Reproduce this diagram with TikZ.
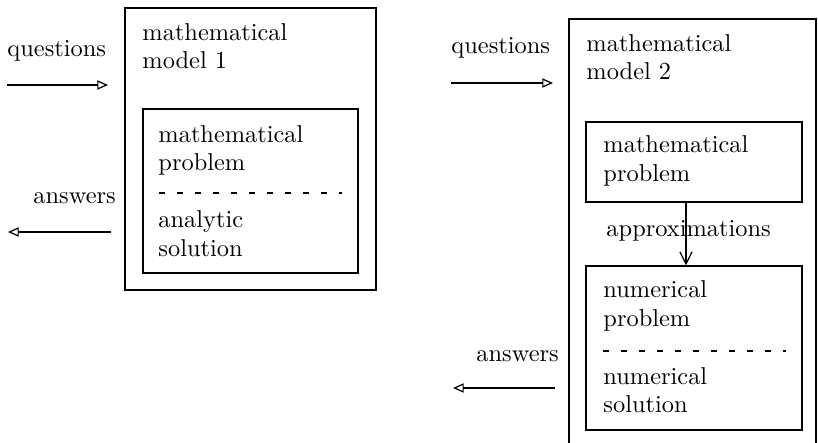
\documentclass[tikz,border=0pt]{standalone}
\usetikzlibrary{arrows.meta,fit}
\begin{document}
\begin{tikzpicture}[x=0.41pt,y=-0.41pt,
  box/.style={draw,line width=0.5pt,inner sep=0pt},
  lbl/.style={anchor=base west,inner sep=0pt,font=\fontsize{10}{12}\selectfont},
  io/.style={-{Triangle[open,length=4.4pt,width=3.8pt]},line width=0.5pt},
  sepline/.style={dash pattern=on 2.4pt off 5pt,line width=0.45pt},
  approx/.style={-{Straight Barb[length=5pt,width=5pt]},line width=0.5pt}]
\useasboundingbox (0,0) rectangle (818,443);
% ---------- left model ----------
\coordinate (o1a) at (125,8);   \coordinate (o1b) at (376,290);
\node[box,fit=(o1a)(o1b)] (outer1) {};
\coordinate (i1a) at (143,109); \coordinate (i1b) at (358,273);
\node[box,fit=(i1a)(i1b)] (inner1) {};
\node[lbl] (m1a) at (142,41) {mathematical};
\node[lbl] (m1b) at (142,69) {model 1};
\node[lbl] (p1a) at (158,143) {mathematical};
\node[lbl] (p1b) at (158,171) {problem};
\node[lbl] (s1a) at (158,228) {analytic};
\node[lbl] (s1b) at (158,257) {solution};
\coordinate (d1a) at (159,193); \coordinate (d1b) at (342,193);
\draw[sepline] (d1a) -- (d1b);
\node[lbl] (q1) at (7,57) {questions};
\coordinate (q1s) at (7,85); \coordinate (q1e) at (108,85);
\draw[io] (q1s) -- (q1e);
\node[lbl] (a1) at (33,204) {answers};
\coordinate (a1s) at (111,232); \coordinate (a1e) at (8,232);
\draw[io] (a1s) -- (a1e);
% ---------- right model ----------
\coordinate (o2a) at (569,19);  \coordinate (o2b) at (816,480);
\node[box,fit=(o2a)(o2b)] (outer2) {};
\coordinate (i2a) at (586,122); \coordinate (i2b) at (802,202);
\node[box,fit=(i2a)(i2b)] (inner2a) {};
\coordinate (i3a) at (586,266); \coordinate (i3b) at (802,430);
\node[box,fit=(i3a)(i3b)] (inner2b) {};
\node[lbl] (m2a) at (586,52) {mathematical};
\node[lbl] (m2b) at (586,80) {model 2};
\node[lbl] (p2a) at (603,153) {mathematical};
\node[lbl] (p2b) at (603,182) {problem};
\node[lbl] (n2a) at (603,298) {numerical};
\node[lbl] (n2b) at (603,327) {problem};
\node[lbl] (n2c) at (603,385) {numerical};
\node[lbl] (n2d) at (603,413) {solution};
\coordinate (d2a) at (603,351); \coordinate (d2b) at (786,351);
\draw[sepline] (d2a) -- (d2b);
\node[lbl] (ap) at (606,237) {approximations};
\coordinate (apx) at (686,0);
\draw[approx] (inner2a.south -| apx) -- (inner2b.north -| apx);
\node[lbl] (q2) at (451,54) {questions};
\coordinate (q2s) at (451,83); \coordinate (q2e) at (553,83);
\draw[io] (q2s) -- (q2e);
\node[lbl] (a2) at (476,362) {answers};
\coordinate (a2s) at (555,388); \coordinate (a2e) at (453,388);
\draw[io] (a2s) -- (a2e);
\end{tikzpicture}
\end{document}
